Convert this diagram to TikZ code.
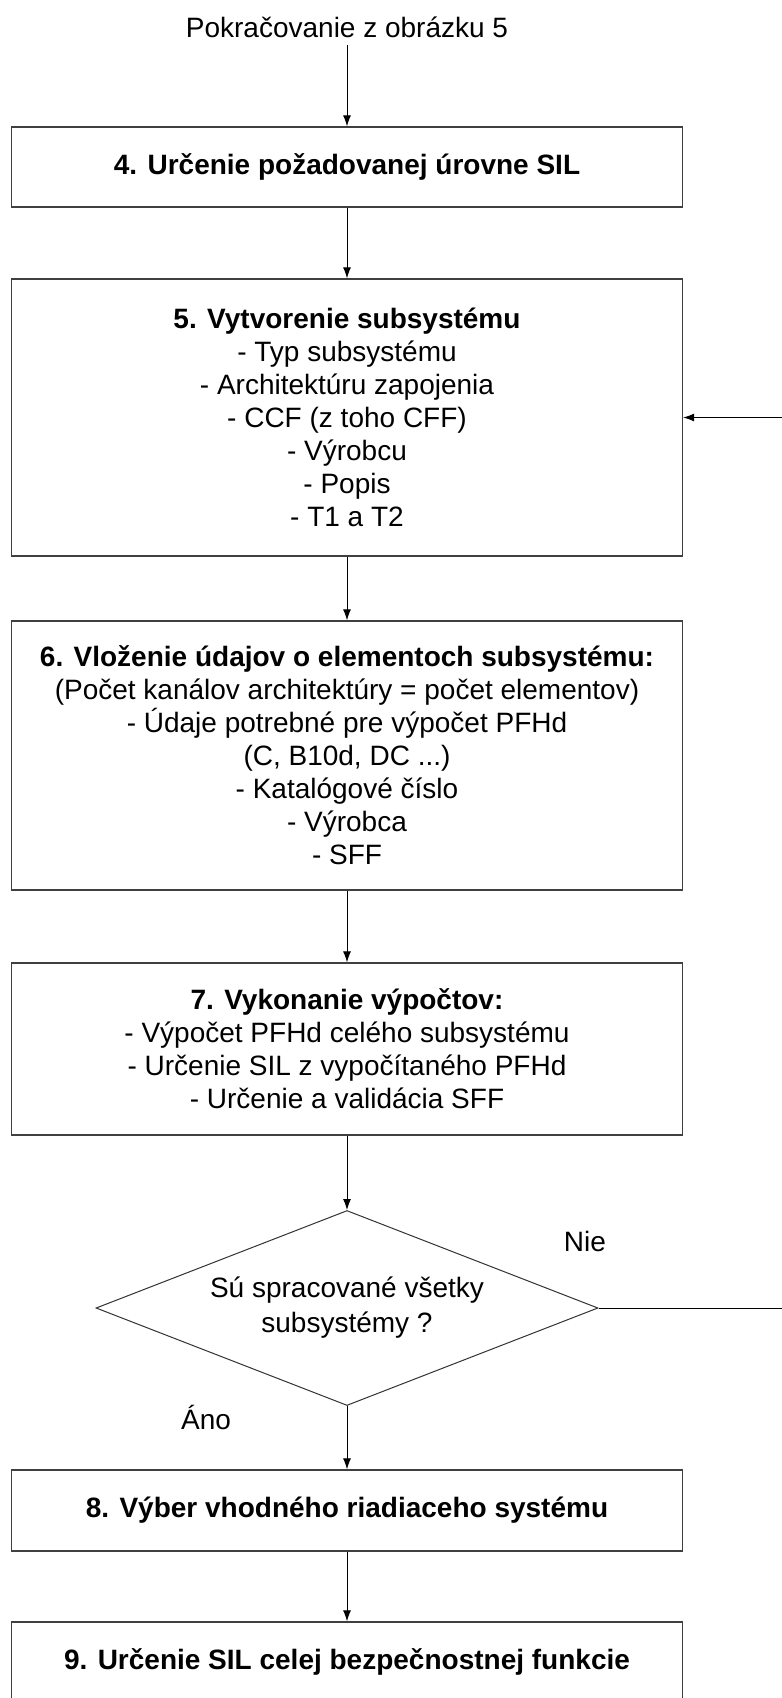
\documentclass[tikz,border=0pt]{standalone}
\usepackage{fontspec}
\setmainfont{Liberation Sans}
\usetikzlibrary{%
  arrows.meta,%
  shapes.geometric%
}
\tikzset{>={Latex[length=11pt,width=8pt]}}
\tikzset{
  krok/.style={draw=black!75,line width=1.3pt,minimum width=671pt,
    align=center,inner sep=0pt,font=\fontsize{28}{33}\selectfont},
  otazka/.style={draw=black!80,line width=1pt,shape=diamond,aspect=2.5,
    minimum width=502pt,minimum height=195pt,inner sep=0pt,align=center,
    font=\fontsize{28}{35}\selectfont},
  popis/.style={font=\fontsize{28}{33}\selectfont},
  tok/.style={->,line width=1pt}
}

\begin{document}
\begin{tikzpicture}[x=1pt,y=-1pt]
        \useasboundingbox[fill=white] (0,0) rectangle (782,1698);
        \node[popis] (zac) at (347,27) {Pokračovanie z obrázku 5};
        \node[krok,minimum height=80pt] (k4) at (347,167)
        {\textbf{4. Určenie požadovanej úrovne SIL}};
        \node[krok,minimum height=277pt] (k5) at (347,417.5)
        {\textbf{5. Vytvorenie subsystému}\\- Typ subsystému\\
        - Architektúru zapojenia\\- CCF (z toho CFF)\\- Výrobcu\\
        - Popis\\- T1 a T2};
        \node[krok,minimum height=269pt] (k6) at (347,755.5)
        {\textbf{6. Vloženie údajov o elementoch subsystému:}\\
        (Počet kanálov architektúry = počet elementov)\\
        - Údaje potrebné pre výpočet PFHd\\(C, B10d, DC ...)\\
        - Katalógové číslo\\- Výrobca\\- SFF};
        \node[krok,minimum height=172pt] (k7) at (347,1049)
        {\textbf{7. Vykonanie výpočtov:}\\- Výpočet PFHd celého subsystému\\
        - Určenie SIL z vypočítaného PFHd\\- Určenie a validácia SFF};
        \node[otazka] (ot) at (347,1308)
        {Sú spracované všetky\\subsystémy ?};
        \node[popis] (nie) at (585,1241) {Nie};
        \node[popis] (ano) at (206,1417) {Áno};
        \node[krok,minimum height=81pt] (k8) at (347,1510.5)
        {\textbf{8. Výber vhodného riadiaceho systému}};
        \node[krok,minimum height=80pt] (k9) at (347,1662)
        {\textbf{9. Určenie SIL celej bezpečnostnej funkcie}};
        \coordinate (spat) at (800,1308);
        \draw[tok] (zac.south) ++(0,-4pt) -- (k4.north);
        \draw[tok] (k4) -- (k5);
        \draw[tok] (k5) -- (k6);
        \draw[tok] (k6) -- (k7);
        \draw[tok] (k7) -- (ot);
        \draw[tok] (ot) -- (k8);
        \draw[tok] (k8) -- (k9);
        \draw[tok] (ot.east) -- (spat) |- (k5.east);
      \end{tikzpicture}
\end{document}
